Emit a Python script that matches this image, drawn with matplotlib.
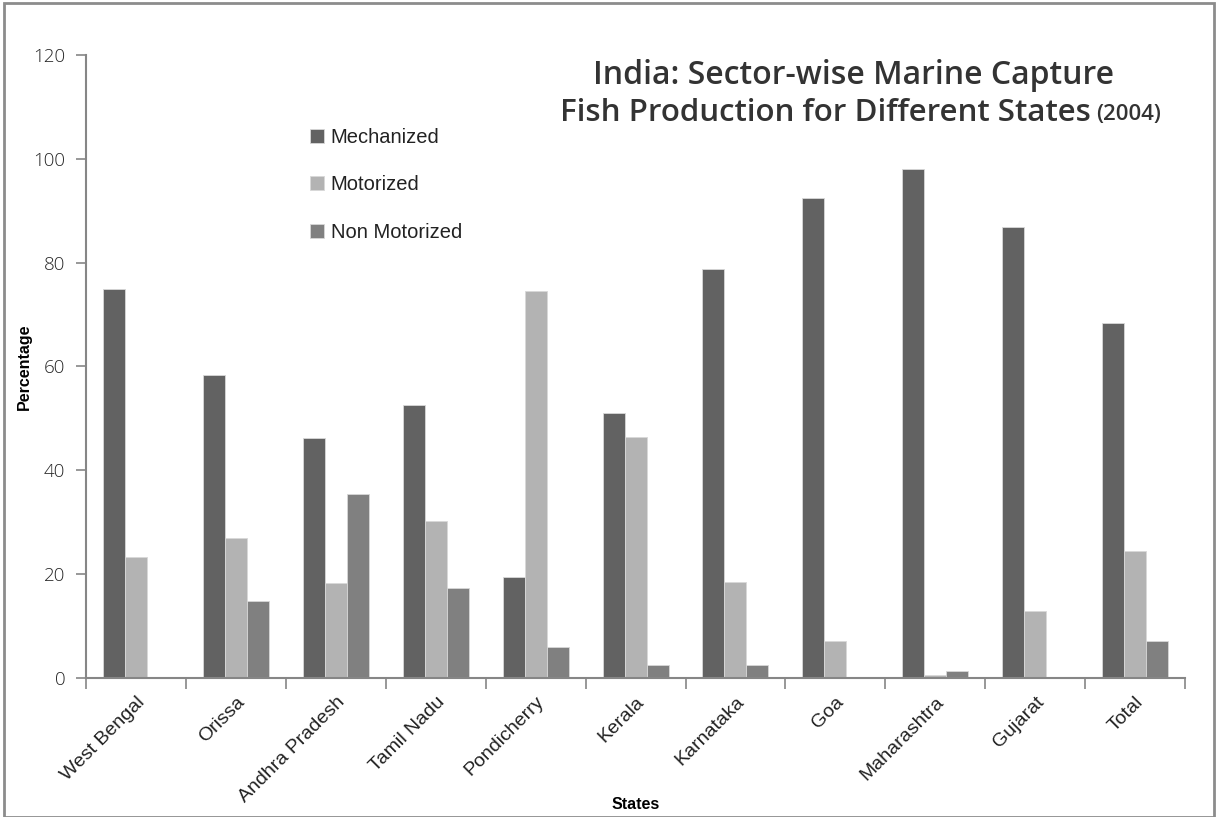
import matplotlib.pyplot as plt
import numpy as np
from matplotlib.patches import Rectangle

states = ['West Bengal', 'Orissa', 'Andhra Pradesh', 'Tamil Nadu', 'Pondicherry',
          'Kerala', 'Karnataka', 'Goa', 'Maharashtra', 'Gujarat', 'Total']
mechanized = [75.0, 58.3, 46.2, 52.5, 19.5, 51.0, 78.8, 92.5, 98.0, 86.8, 68.4]
motorized = [23.3, 27.0, 18.4, 30.2, 74.6, 46.4, 18.5, 7.2, 0.6, 13.0, 24.4]
non_motorized = [0.0, 14.8, 35.4, 17.4, 6.0, 2.5, 2.6, 0.3, 1.3, 0.3, 7.2]

plt.rcParams['font.family'] = ['Liberation Sans', 'DejaVu Sans']

fig = plt.figure(figsize=(12.18, 8.17), dpi=100)
ax = fig.add_axes([0.0706, 0.170, 0.9024, 0.763])

x = np.arange(len(states))
w = 0.22
ax.bar(x - w, mechanized, w, color='#626262', edgecolor='#d8d8d8', linewidth=0.6, label='Mechanized')
ax.bar(x, motorized, w, color='#b3b3b3', edgecolor='#d8d8d8', linewidth=0.6, label='Motorized')
ax.bar(x + w, non_motorized, w, color='#808080', edgecolor='#d8d8d8', linewidth=0.6, label='Non Motorized')

ax.set_xlim(-0.5, len(states) - 0.5)
ax.set_ylim(0, 120)
ax.set_yticks(range(0, 121, 20))
ax.set_xticks(np.arange(-0.5, len(states), 1.0))
ax.set_xticklabels([])
ax.set_xticks(x, minor=True)
ax.set_xticklabels(states, minor=True, rotation=45, ha='right', rotation_mode='anchor',
                   fontsize=14, color='#222222')
ax.tick_params(axis='x', which='minor', length=0, pad=11)
ax.tick_params(axis='x', which='major', length=8, color='#868686', width=1.2)
ax.tick_params(axis='y', length=7, color='#868686', width=1.2, labelsize=13.5,
               labelcolor='#262626', pad=8)
for lab in ax.get_yticklabels():
    lab.set_family(['Open Sans', 'DejaVu Sans'])
    lab.set_fontweight('light')

for s in ['top', 'right']:
    ax.spines[s].set_visible(False)
for s in ['left', 'bottom']:
    ax.spines[s].set_color('#868686')
    ax.spines[s].set_linewidth(1.5)

ax.set_ylabel('Percentage', fontsize=11.5, fontweight='bold')
ax.yaxis.set_label_coords(-0.049, 0.5)
ax.set_xlabel('States', fontsize=11.5, fontweight='bold')
ax.xaxis.set_label_coords(0.5, -0.19)

leg = ax.legend(loc='upper left', bbox_to_anchor=(0.187, 0.912), frameon=False, fontsize=14.5,
                handlelength=0.7, handleheight=0.7, handletextpad=0.35, labelspacing=1.42)
for t in leg.get_texts():
    t.set_color('#222222')

tfont = ['Open Sans', 'DejaVu Sans']
fig.text(0.701, 0.908, 'India: Sector-wise Marine Capture', ha='center', va='center',
         fontsize=23, color='#333333', family=tfont, fontstretch='condensed', fontweight='semibold')
fig.text(0.896, 0.862, 'Fish Production for Different States', ha='right', va='center',
         fontsize=22.5, color='#333333', family=tfont, fontstretch='condensed', fontweight='semibold')
fig.text(0.900, 0.860, '(2004)', ha='left', va='center',
         fontsize=16, color='#333333', family=tfont, fontstretch='condensed', fontweight='semibold')

fig.patches.append(Rectangle((0.003, 0.0), 0.994, 0.996, transform=fig.transFigure,
                             fill=False, edgecolor='#8c8c8c', linewidth=2))

fig.savefig('out.png', dpi=100)
